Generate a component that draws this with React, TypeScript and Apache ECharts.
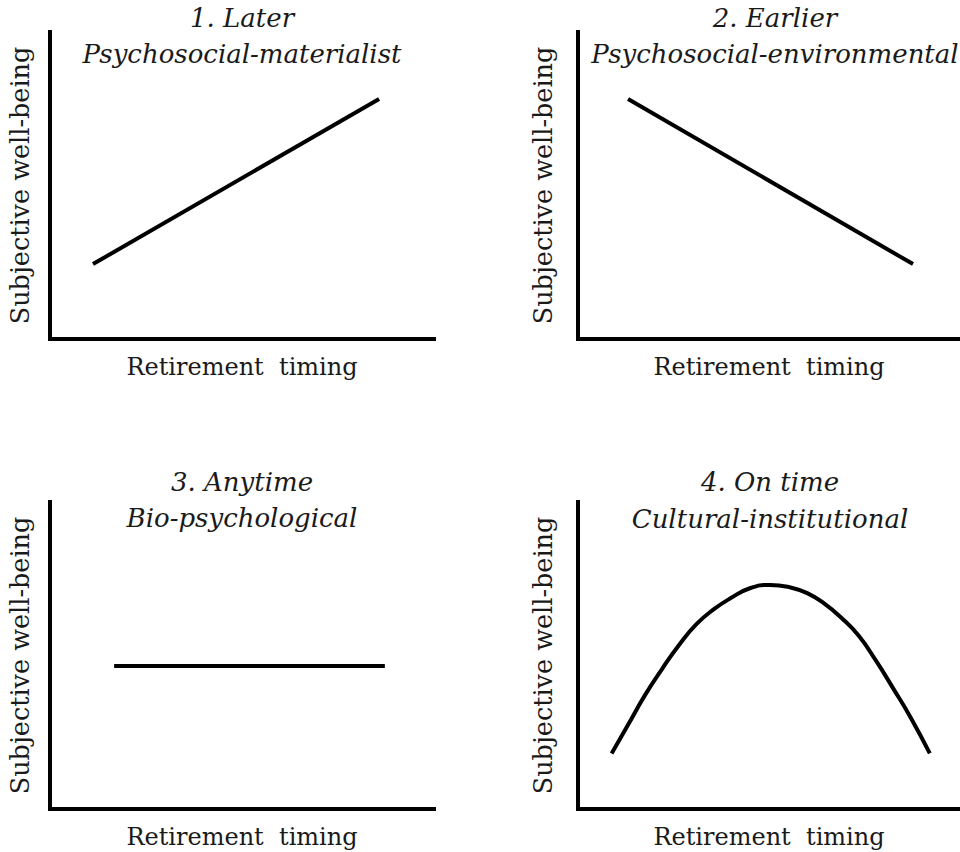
import React, { useEffect, useRef } from "react";
import * as echarts from "echarts";

// Panel titles (two lines each)
const titleLine1 = ["1. Later", "2. Earlier", "3. Anytime", "4. On time"];
const titleLine2 = [
  "Psychosocial-materialist",
  "Psychosocial-environmental",
  "Bio-psychological",
  "Cultural-institutional",
];
const xAxisName = "Retirement  timing";
const yAxisName = "Subjective well-being";

// Series values on a 0-100 scale for both axes
const laterX = [11.2, 85.7];
const laterY = [24.4, 78.2];
const earlierX = [13.1, 87.7];
const earlierY = [78.2, 24.4];
const anytimeX = [16.7, 87.2];
const anytimeY = [46.6, 46.6];
const onTimeX = [8.8, 13.0, 17.5, 22.0, 26.5, 31.0, 35.5, 40.0, 45.0, 50.3, 55.5, 60.0, 64.5, 69.0, 73.5, 78.0, 82.5, 87.0, 92.1];
const onTimeY = [18.1, 27.2, 37.0, 45.6, 53.5, 60.2, 65.0, 68.7, 71.9, 73.0, 72.2, 70.3, 66.9, 62.2, 56.4, 48.3, 39.3, 30.0, 18.1];

const seriesX = [laterX, earlierX, anytimeX, onTimeX];
const seriesY = [laterY, earlierY, anytimeY, onTimeY];

export default function App() {
  const ref = useRef<HTMLDivElement>(null);
  useEffect(() => {
    document.body.style.margin = "0";
    if (!ref.current) return;
    const chart = echarts.init(ref.current, undefined, { renderer: "svg" });

    const grids = [
      { left: 50, top: 32, width: 384, height: 307 },
      { left: 578, top: 32, width: 382, height: 307 },
      { left: 50, top: 502, width: 384, height: 307 },
      { left: 578, top: 502, width: 382, height: 307 },
    ];
    const serif = "DejaVu Serif";
    const textColor = "#1a1a1a";

    const axisLine = {
      show: true,
      lineStyle: { color: "#000", width: 4, cap: "square" as const },
    };

    const xAxes = grids.map((_, i) => ({
      type: "value" as const,
      gridIndex: i,
      min: 0,
      max: 100,
      axisLine,
      axisTick: { show: false },
      axisLabel: { show: false },
      splitLine: { show: false },
      name: xAxisName,
      nameLocation: "middle" as const,
      nameGap: 16,
      nameTextStyle: { fontFamily: serif, fontSize: 24, color: textColor },
    }));
    const yAxes = grids.map((_, i) => ({
      type: "value" as const,
      gridIndex: i,
      min: 0,
      max: 100,
      axisLine,
      axisTick: { show: false },
      axisLabel: { show: false },
      splitLine: { show: false },
      name: yAxisName,
      nameLocation: "middle" as const,
      nameRotate: 90,
      nameGap: i % 2 === 0 ? 17 : 22,
      nameTextStyle: { fontFamily: serif, fontSize: 25.5, color: textColor },
    }));

    const series = seriesX.map((xs, i) => ({
      type: "line" as const,
      xAxisIndex: i,
      yAxisIndex: i,
      data: xs.map((x, j) => [x, seriesY[i][j]]),
      showSymbol: false,
      smooth: i === 3 ? 0.5 : false,
      lineStyle: { color: "#000", width: 4 },
    }));

    const centers = [
      [242, 18, 54],
      [775, 18, 54],
      [242, 482, 518],
      [770, 482, 519],
    ];
    const graphic: any[] = [];
    centers.forEach(([cx, y1, y2], i) => {
      [
        [titleLine1[i], y1],
        [titleLine2[i], y2],
      ].forEach(([t, y]) => {
        graphic.push({
          type: "text",
          x: cx,
          y,
          style: {
            text: t,
            fontFamily: serif,
            fontStyle: "italic",
            fontSize: 26,
            fill: textColor,
            textAlign: "center",
            textVerticalAlign: "middle",
            verticalAlign: "middle",
          },
        });
      });
    });

    chart.setOption({
      animation: false,
      backgroundColor: "#fff",
      grid: grids,
      xAxis: xAxes,
      yAxis: yAxes,
      series,
      graphic,
    });
    return () => chart.dispose();
  }, []);
  return (
    <div
      ref={ref}
      style={{ width: 960, height: 852, position: "absolute", left: 0, top: 0 }}
    />
  );
}
